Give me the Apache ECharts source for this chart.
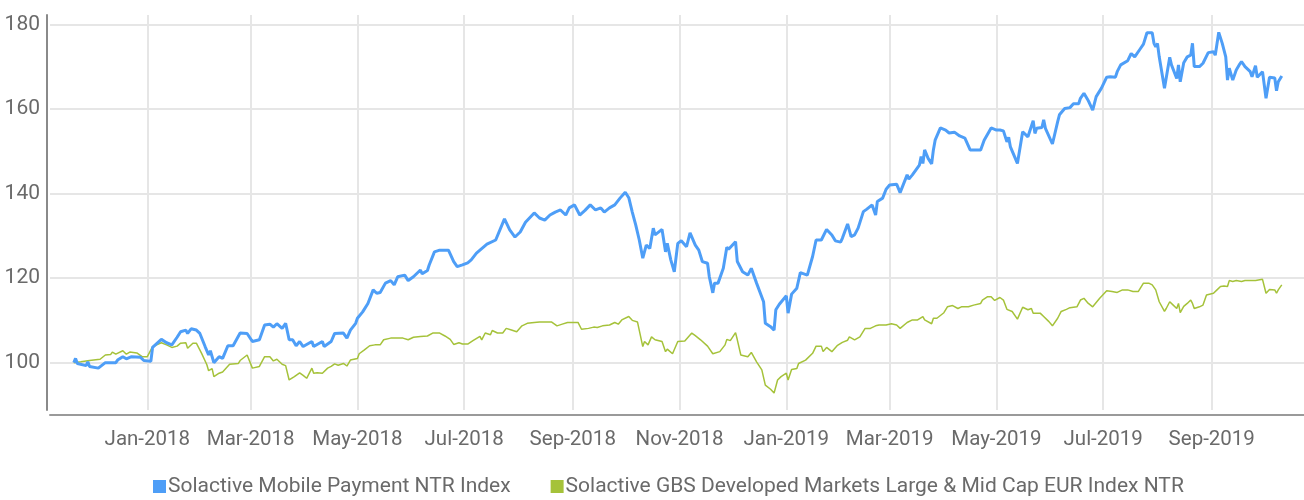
<!DOCTYPE html>
<html>
<head>
<meta charset="utf-8">
<script src="https://cdn.jsdelivr.net/npm/echarts@6/dist/echarts.min.js"></script>
<style>
html,body{margin:0;padding:0;background:#fff;}
#chart{width:1304px;height:500px;}
</style>
</head>
<body>
<div id="chart"></div>
<script>
// Dates are given as day offsets from BASE_DATE (2018-01-01)
var BASE_DATE = '2018-01-01';
var X_MIN_DAY = -55.6;   // ~2017-11-06
var X_MAX_DAY = 660.7;   // ~2019-10-23

var seriesNames = ['Solactive Mobile Payment NTR Index', 'Solactive GBS Developed Markets Large & Mid Cap EUR Index NTR'];

var xTickDates = ['2018-01-01','2018-03-01','2018-05-01','2018-07-01','2018-09-01','2018-11-01','2019-01-01','2019-03-01','2019-05-01','2019-07-01','2019-09-01'];
var yTicks = [100, 120, 140, 160, 180];
var monthNames = ['Jan','Feb','Mar','Apr','May','Jun','Jul','Aug','Sep','Oct','Nov','Dec'];

var blueDays = [-42,-41,-40,-35,-34,-33,-28,-24,-18,-17,-14,-12,-9,-4,-2,2,3,8,11,14,17,19,22,23,25,28,30,33,35,36,38,41,43,46,49,53,57,60,64,67,70,72,74,77,79,81,83,85,87,89,94,95,100,101,105,107,112,114,116,119,120,123,126,129,131,133,136,139,141,143,147,149,152,156,157,160,161,164,167,172,175,177,180,183,185,188,190,194,199,204,207,210,213,216,221,224,227,230,233,236,239,241,244,247,250,253,256,259,261,264,267,270,273,275,277,279,281,283,285,287,289,290,294,296,297,299,301,303,305,308,310,313,315,317,320,321,323,324,326,329,331,332,336,337,340,343,345,348,352,353,356,358,359,361,365,366,368,371,373,377,378,380,382,385,388,391,393,396,397,400,402,404,406,409,411,414,416,417,420,422,424,428,430,434,435,437,441,442,443,444,446,448,449,450,453,456,458,461,464,467,470,476,478,482,485,487,489,491,492,493,494,497,500,503,506,507,508,511,512,513,517,520,521,524,527,529,532,533,535,537,538,540,542,545,548,550,553,554,556,560,561,562,564,567,569,571,574,575,576,577,578,581,584,585,588,589,590,592,594,596,597,598,601,603,606,609,610,612,614,616,617,618,620,622,624,625,627,630,631,633,634,637,639,641,644,645,646,648];
var blueValues = [100.0,101.0,99.8,99.3,100.2,99.1,98.7,100.0,100.0,100.6,101.4,100.9,101.4,101.3,100.5,100.3,103.6,105.5,104.7,104.2,106.0,107.3,107.7,106.9,108.0,107.7,106.9,103.8,101.8,102.8,100.0,101.4,101.0,104.0,104.0,107.0,106.9,105.0,105.4,108.9,109.1,108.4,109.2,108.1,109.3,105.4,105.4,104.0,105.0,103.8,105.0,103.8,105.0,103.8,105.0,106.9,107.0,105.8,107.7,109.3,110.5,112.0,114.0,117.2,116.4,116.6,118.8,119.4,118.4,120.3,120.7,119.4,120.3,121.9,121.0,121.8,123.1,126.2,126.6,126.6,123.9,122.7,123.1,123.6,124.3,125.9,126.6,128.0,129.0,134.0,131.4,129.7,130.9,133.2,135.4,134.2,133.7,134.9,135.6,136.1,134.9,136.6,137.3,134.9,136.0,137.3,136.1,136.6,135.6,136.6,137.3,138.9,140.3,139.0,135.6,132.5,129.0,124.7,127.8,127.0,131.8,130.2,131.5,126.2,128.2,124.3,121.5,128.2,128.8,127.4,130.7,127.8,126.6,123.9,123.5,120.3,116.5,118.8,118.8,122.3,127.3,126.8,128.6,123.9,121.5,120.7,122.3,118.8,114.4,109.3,108.5,107.7,112.5,113.8,115.8,111.7,116.2,117.6,121.3,120.7,120.5,125.1,129.0,129.0,131.5,130.2,128.8,128.5,129.4,132.8,129.8,130.2,131.8,135.7,136.3,137.3,134.9,138.1,138.9,141.0,142.0,142.2,140.2,144.4,143.4,144.4,146.7,148.7,147.1,150.3,148.3,147.0,150.3,152.6,155.5,155.0,154.3,154.5,153.6,153.1,150.3,150.3,152.6,155.5,155.0,155.0,154.8,152.2,153.3,151.0,151.3,147.1,154.6,153.4,157.2,154.2,155.4,155.6,157.4,155.4,151.7,157.0,158.6,160.1,160.3,161.2,161.2,162.5,163.7,162.3,161.5,159.7,162.9,164.9,167.5,167.6,167.5,168.8,170.4,171.4,171.2,173.1,172.3,174.1,175.3,178.0,178.0,175.5,174.7,175.5,172.3,164.9,172.2,170.4,167.2,170.4,166.4,170.9,172.3,172.7,175.5,170.0,170.0,170.8,173.3,173.5,172.7,178.1,175.5,172.3,166.8,169.6,166.8,169.2,170.6,171.2,170.0,168.8,167.6,170.2,167.5,168.8,162.5,167.5,167.3,164.3,166.4,167.8];

var greenDays = [-42,-38,-33,-27,-24,-21,-20,-18,-17,-14,-12,-10,-6,-3,0,3,8,11,14,17,19,22,23,26,28,31,34,35,37,38,41,43,47,52,53,57,60,64,67,70,72,74,77,79,81,84,87,89,91,94,95,97,100,103,105,107,109,112,114,116,120,121,124,127,130,133,135,139,140,143,146,149,152,156,160,163,164,167,170,173,175,178,180,183,186,190,191,193,196,197,200,203,205,208,211,214,217,221,224,225,228,231,234,237,240,243,246,248,252,255,257,260,261,264,267,269,271,275,277,280,283,284,286,288,290,294,296,297,300,301,303,307,308,311,313,316,317,320,323,324,327,330,331,333,336,337,339,343,345,348,351,353,356,358,360,362,365,366,368,371,372,376,377,380,382,385,386,388,391,394,397,400,401,404,407,410,413,416,418,422,425,428,430,434,437,440,443,444,448,449,451,455,457,460,461,463,465,469,472,476,477,480,482,484,487,489,491,494,497,500,503,505,506,510,512,515,517,520,522,525,527,531,533,535,537,540,544,548,551,554,557,560,563,566,569,570,572,574,576,578,581,582,584,586,588,589,590,592,594,596,597,598,601,603,605,609,611,613,615,617,618,620,622,625,627,630,631,633,634,637,639,641,644,645,646,648];
var greenValues = [100.0,100.2,100.5,100.8,101.8,101.9,102.5,102.0,102.3,102.8,102.0,102.5,102.3,101.4,101.4,103.8,104.7,104.2,103.6,103.9,104.6,104.7,103.4,104.6,104.6,102.2,99.5,98.1,98.6,96.7,97.5,97.8,99.6,99.8,100.5,101.8,98.7,99.1,101.4,101.4,100.4,100.8,99.6,99.3,95.9,96.7,97.6,97.0,96.3,98.7,97.5,97.6,97.5,98.7,99.1,99.7,99.4,99.8,99.2,100.6,101.0,102.1,103.0,104.0,104.2,104.2,105.4,105.8,105.4,105.8,105.8,105.4,106.0,106.2,106.3,107.0,107.3,107.0,106.3,105.5,104.3,104.7,104.4,104.4,105.2,106.2,105.4,107.0,106.6,107.6,107.0,107.0,108.1,107.7,107.3,108.7,109.3,109.5,109.6,109.9,109.6,109.6,108.7,109.1,109.5,109.5,109.5,107.9,108.1,108.4,108.3,108.7,109.1,108.9,109.5,109.1,110.1,110.9,110.0,109.6,103.8,105.0,104.2,106.1,105.4,105.0,102.6,103.2,102.1,101.9,105.0,105.1,105.5,107.0,106.4,105.4,105.0,103.9,102.1,102.4,102.6,104.2,105.5,105.2,107.1,105.4,101.8,101.4,102.4,100.2,98.3,94.7,93.7,92.8,95.9,96.7,97.5,95.9,98.4,98.6,99.8,100.6,100.2,102.2,103.9,103.9,102.6,103.6,102.6,104.0,104.8,105.3,106.1,105.4,106.1,108.1,108.1,108.7,108.9,108.9,109.2,108.9,108.1,109.5,110.1,110.1,110.9,110.1,109.2,110.5,110.5,111.8,113.2,113.5,113.2,112.8,113.2,113.2,113.6,114.0,114.8,115.6,115.6,114.7,115.4,114.8,112.6,112.1,110.3,113.1,112.5,112.8,111.7,111.7,110.9,109.7,108.7,110.5,112.1,112.6,113.0,113.2,114.8,115.2,114.2,113.2,115.2,117.0,116.8,116.6,117.2,117.2,116.8,116.8,118.8,118.4,118.8,118.4,117.2,114.4,112.1,112.8,114.4,113.6,112.8,114.0,111.8,113.3,114.0,114.8,114.0,112.8,113.2,113.6,116.0,116.4,117.2,118.0,118.1,118.0,119.4,119.2,119.4,119.2,119.4,119.4,119.0,119.4,119.2,119.7,116.4,117.3,117.2,116.4,117.2,118.4];

var DAY = 86400000;
var BASE = Date.parse(BASE_DATE + 'T00:00:00Z');
function toPairs(days, vals) {
  var out = [];
  for (var i = 0; i < days.length; i++) out.push([BASE + days[i] * DAY, vals[i]]);
  return out;
}
var xTicks = xTickDates.map(function (s) { return Date.parse(s + 'T00:00:00Z'); });

var FONT = "Roboto, 'Liberation Sans', sans-serif";
var TEXT = '#6a6a6a';
var GRID = '#e6e6e6';

var chart = echarts.init(document.getElementById('chart'), null, { renderer: 'canvas' });
chart.setOption({
  animation: false,
  backgroundColor: '#ffffff',
  grid: { left: 50, right: 0, top: 15, bottom: 90, containLabel: false },
  legend: {
    data: [
      { name: seriesNames[0], icon: 'rect' },
      { name: seriesNames[1], icon: 'rect' }
    ],
    left: 153, top: 476, padding: 0,
    itemWidth: 13, itemHeight: 13, itemGap: 40,
    textStyle: { fontFamily: FONT, fontSize: 21, color: TEXT, padding: [0, 0, 0, -3] }
  },
  xAxis: {
    type: 'value',
    min: BASE + X_MIN_DAY * DAY,
    max: BASE + X_MAX_DAY * DAY,
    offset: 5,
    axisLine: { show: true, onZero: false, lineStyle: { color: '#9a9a9a', width: 2 } },
    axisTick: { show: false, customValues: xTicks },
    axisLabel: {
      customValues: xTicks,
      fontFamily: FONT, fontSize: 20.5, color: TEXT, margin: 14,
      formatter: function (v) {
        var d = new Date(v);
        return monthNames[d.getUTCMonth()] + '-' + d.getUTCFullYear();
      }
    },
    splitLine: { show: true, lineStyle: { color: GRID, width: 2 } }
  },
  yAxis: {
    type: 'value',
    min: 88.8, max: 182.2,
    offset: 3,
    axisLine: { show: true, onZero: false, lineStyle: { color: '#8a8a8a', width: 2 } },
    axisTick: { show: false, customValues: yTicks },
    axisLabel: { customValues: yTicks, fontFamily: FONT, fontSize: 21, color: TEXT, margin: 7 },
    splitLine: { show: true, lineStyle: { color: GRID, width: 2 } }
  },
  series: [
    {
      name: seriesNames[1], type: 'line', data: toPairs(greenDays, greenValues),
      showSymbol: false, symbol: 'none', color: '#a5c23a',
      lineStyle: { width: 1.5, color: '#a5c23a' }, z: 2
    },
    {
      name: seriesNames[0], type: 'line', data: toPairs(blueDays, blueValues),
      showSymbol: false, symbol: 'none', color: '#4e9ef7',
      lineStyle: { width: 3, color: '#4e9ef7' }, z: 3
    }
  ]
});
</script>
</body>
</html>
